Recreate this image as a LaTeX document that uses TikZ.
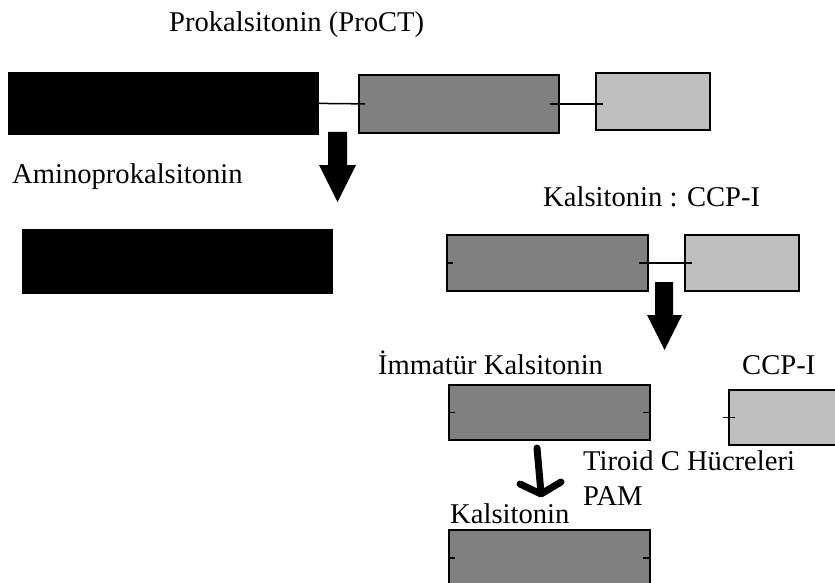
\documentclass[tikz,border=0pt]{standalone}
\usepackage{fontspec}
\setmainfont{Liberation Serif}
\tikzset{
  lbl/.style={anchor=base west,inner sep=0pt,font=\fontsize{28.6}{34}\selectfont},
  seg/.style={draw=black,line width=1.8pt,anchor=north west,inner sep=0pt},
  blk/.style={seg,fill=black},
  mid/.style={seg,fill=black!50},
  lite/.style={seg,fill=black!25},
  link/.style={line width=1.5pt},
  blockarrow/.style={fill=black}
}
\begin{document}
\begin{tikzpicture}[x=1pt,y=-1pt]
   \useasboundingbox (0,0) rectangle (835,583);
   \clip (0,0) rectangle (835,583);
   \node[lbl] (tProCT) at (169,32) {Prokalsitonin (ProCT)};
   \node[blk,minimum width=309pt,minimum height=61pt] (pro) at (8,72) {};
   \node[mid,minimum width=200pt,minimum height=58pt] (ctA) at (358,74) {};
   \node[lite,minimum width=114pt,minimum height=57pt] (ccpA) at (595,72) {};
   \draw[link] (pro.east) -- ([xshift=7pt]ctA.west);
   \draw[link] ([xshift=-10pt]ctA.east) -- ([xshift=8pt]ctA.east -| ccpA.west);
   \fill[blockarrow] (328,132) -- (347,132) -- (347,165) -- (356,165) -- (337.5,202) -- (319,165) -- (328,165) -- cycle;
   \node[lbl] (tAmino) at (12,183) {Aminoprokalsitonin};
   \node[blk,minimum width=309pt,minimum height=63pt] (amino) at (22,229) {};
   \node[lbl] (tCtCcp) at (543,206) {Kalsitonin : CCP-I};
   \node[mid,minimum width=201pt,minimum height=56pt] (ctB) at (446,234) {};
   \node[lite,minimum width=114pt,minimum height=56pt] (ccpB) at (684,234) {};
   \draw[link] (ctB.west) -- ++(7,0);
   \draw[link] ([xshift=-10pt]ctB.east) -- ([xshift=8pt]ccpB.west);
   \fill[blockarrow] (655,282) -- (673,282) -- (673,315) -- (682,315) -- (664.5,350) -- (647,315) -- (655,315) -- cycle;
   \node[lbl] (tImm) at (378,374) {İmmatür Kalsitonin};
   \node[lbl] (tCcp) at (742,374) {CCP-I};
   \node[mid,minimum width=201pt,minimum height=55pt] (imm) at (448,384) {};
   \node[lite,minimum width=130pt,minimum height=55pt] (ccpC) at (728,389) {};
   \draw[link] (imm.west) -- ++(7,0);
   \draw[link] (imm.east) -- ++(-8,0);
   \draw[link] ([xshift=-5pt]ccpC.west) -- ++(12,0);
   % hand drawn arrow
   \draw[line width=7pt,line cap=round,line join=round] (537,448) -- (541,493);
   \draw[line width=7pt,line cap=round,line join=round] (520,484) -- (541,494) -- (561,482);
   \node[lbl] (tTiroid) at (583,470) {Tiroid C Hücreleri};
   \node[lbl] (tPam) at (583,505) {PAM};
   \node[lbl] (tKal) at (450,523) {Kalsitonin};
   \node[mid,minimum width=201pt,minimum height=56pt] (kal) at (448,529) {};
   \draw[link] (kal.west) -- ++(7,0);
   \draw[link] (kal.east) -- ++(-8,0);
\end{tikzpicture}
\end{document}
